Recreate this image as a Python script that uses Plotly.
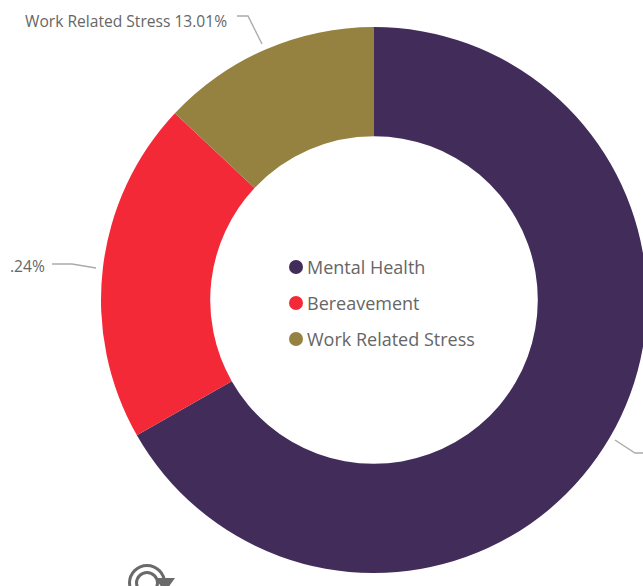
import plotly.graph_objects as go

categories = ["Mental Health", "Bereavement", "Work Related Stress"]
shares = [66.75, 20.24, 13.01]
colours = ["#412C5A", "#F42938", "#958140"]

# Canvas is wider than the window so the ring can run slightly past the right edge.
W, H = 748, 600
RING_TOP, RING_BOTTOM = 27, 573
TEXT = "#666666"
LEADER = "#ABABAB"
FONT = "Open Sans, Noto Sans, sans-serif"


def fx(px):
    return px / W


def fy(px):
    return 1 - px / H


def line(points):
    path = "M " + " L ".join(f"{fx(x)} {fy(y)}" for x, y in points)
    return dict(type="path", xref="paper", yref="paper", path=path,
                line=dict(color=LEADER, width=1.4))


def ring(cx, cy, r, width, colour):
    return dict(type="circle", xref="paper", yref="paper",
                x0=fx(cx - r), x1=fx(cx + r), y0=fy(cy + r), y1=fy(cy - r),
                line=dict(color=colour, width=width), fillcolor="rgba(0,0,0,0)")


fig = go.Figure(go.Pie(
    labels=categories,
    values=shares,
    hole=0.6,
    sort=False,
    direction="clockwise",
    rotation=0,
    marker=dict(colors=colours, line=dict(width=0)),
    textinfo="none",
    showlegend=False,
    domain=dict(x=[0, 1], y=[1 - RING_BOTTOM / H, 1 - RING_TOP / H]),
))

shapes = [
    line([(237, 16), (248, 16), (262, 44)]),
    line([(52, 264), (72, 264), (96, 268)]),
    line([(615, 440), (635, 453), (650, 453)]),
]

# The left callout is trimmed by the visual's frame, leaving only the tail of its value.
annotations = [
    dict(text=f"{categories[2]} {shares[2]:.2f}%", x=fx(229), y=fy(21), xanchor="right"),
    dict(text=f"{shares[1]:.2f}%"[2:], x=fx(47), y=fy(266), xanchor="right"),
]
annotations = [dict(a, xref="paper", yref="paper", yanchor="middle", showarrow=False,
                    font=dict(family=FONT, size=15.6, color=TEXT)) for a in annotations]

# Legend in the hole of the ring
for i, (name, colour) in enumerate(zip(categories, colours)):
    row_y = 267 + i * 36
    shapes.append(dict(type="circle", xref="paper", yref="paper",
                       x0=fx(289), x1=fx(303), y0=fy(row_y + 7), y1=fy(row_y - 7),
                       fillcolor=colour, line=dict(width=0)))
    annotations.append(dict(text=name, xref="paper", yref="paper", x=fx(305), y=fy(row_y),
                            xanchor="left", yanchor="middle", showarrow=False,
                            font=dict(family=FONT, size=18, color=TEXT)))

# Refresh icon cut off by the lower edge
shapes += [
    ring(147, 583, 17.5, 3, "#6A6A6A"),
    ring(147, 583, 10.5, 3, "#6A6A6A"),
    dict(type="path", xref="paper", yref="paper",
         path=f"M {fx(155)} {fy(578)} L {fx(175)} {fy(578)} L {fx(165)} {fy(592)} Z",
         fillcolor="#6A6A6A", line=dict(width=0)),
]

fig.update_layout(
    width=W,
    height=H,
    margin=dict(l=0, r=0, t=0, b=0),
    paper_bgcolor="white",
    shapes=shapes,
    annotations=annotations,
)

fig.write_html(
    "out.html",
    post_script="document.documentElement.style.overflow='hidden';document.body.style.overflow='hidden';",
)
